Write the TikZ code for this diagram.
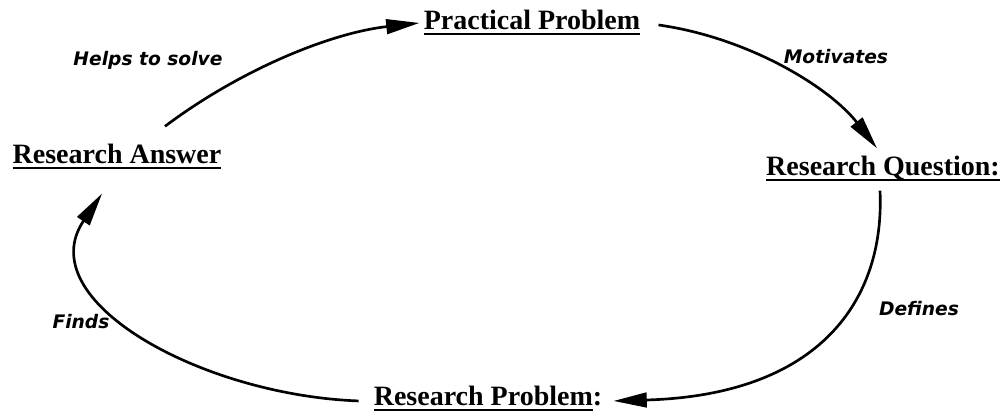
\documentclass[tikz,border=0pt]{standalone}
\usepackage{fontspec}
\setmainfont{Liberation Serif}
\newfontfamily\verbfont{DejaVu Sans}
\usetikzlibrary{arrows.meta}
\newcommand{\undl}[1]{\setbox0\hbox{#1}\rlap{\rule[-4pt]{\wd0}{1.5pt}}\box0}
\tikzset{
  stage/.style={font=\fontsize{21}{24}\selectfont\bfseries, inner sep=3pt, anchor=base},
  verb/.style={font=\verbfont\fontsize{14}{16}\selectfont\bfseries\itshape, inner sep=0pt},
  cyc/.style={draw, line width=2pt, -{Triangle[length=25pt, width=11pt]}}
}
\begin{document}
\begin{tikzpicture}[x=0.75pt, y=-0.75pt]
\useasboundingbox (0,0) rectangle (1003,416);
\node[stage] (prac) at (532,30) {\undl{Practical Problem}};
\node[stage] (ques) at (883,176) {\undl{Research Question:}};
\node[stage] (prob) at (488,406) {\undl{Research Problem}:};
\node[stage] (ans) at (117,164) {\undl{Research Answer}};
\node[verb] (helps) at (148,60) {Helps to solve};
\node[verb] (motiv) at (836,57) {Motivates};
\node[verb] (defs) at (919,309) {Defines};
\node[verb] (finds) at (81,322) {Finds};
% the cycle
\draw[cyc] ([shift={(48,-14)}]ans.north) .. controls (240,70) and (330,33) .. (prac.west);
\draw[cyc] ([shift={(14,2)}]prac.east) .. controls (750,38) and (830,88) .. ([shift={(-6,-4)}]ques.north);
\draw[cyc] ([shift={(-3,5)}]ques.south) .. controls (885,300) and (820,395) .. ([shift={(7,2)}]prob.east);
\draw[cyc] ([shift={(-11,2)}]prob.west) .. controls (200,395) and (30,300) .. ([shift={(-15,20)}]ans.south);
\end{tikzpicture}
\end{document}
